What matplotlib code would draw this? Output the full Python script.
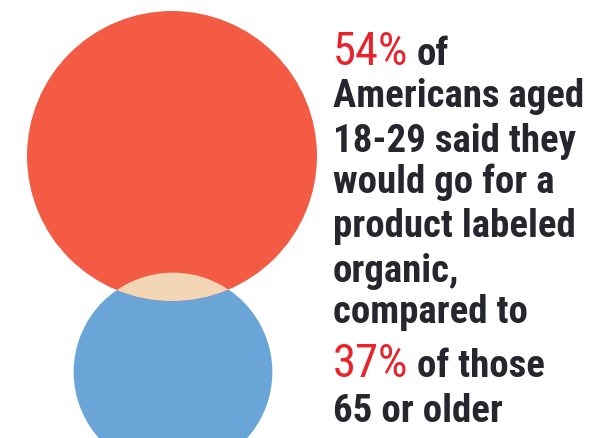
import matplotlib
matplotlib.use("Agg")
import matplotlib.pyplot as plt
from matplotlib.patches import Circle
from matplotlib import font_manager

# survey shares
groups = ["18-29", "65 or older"]
shares = [54, 37]
colors = ["#F45B44", "#69A6D7"]
overlap_color = "#F3D6B6"

lines = [("54%", "of"), ("", "Americans aged"), ("", "18-29 said they"),
         ("", "would go for a"), ("", "product labeled"), ("", "organic,"),
         ("", "compared to"), ("37%", "of those"), ("", "65 or older")]
baselines = [65, 107, 152, 193, 237, 282, 323, 377, 422]

# pick a narrow face if there is one
names = {f.name for f in font_manager.fontManager.ttflist}
family = "DejaVu Sans"
for cand in ["Roboto Condensed", "Liberation Sans Narrow", "Open Sans Condensed",
             "Noto Sans Condensed", "Roboto", "Liberation Sans"]:
    if cand in names:
        family = cand
        break
font = [family, "DejaVu Sans"]

fig = plt.figure(figsize=(5.9, 4.39), dpi=100)
ax = fig.add_axes([0, 0, 1, 1])
ax.set_xlim(0, 590)
ax.set_ylim(439, 0)
ax.set_aspect("equal")
ax.axis("off")

# radius proportional to share
k = 145 / shares[0]
r_top = shares[0] * k
r_bot = shares[1] * k
top = Circle((172, 157), r_top, color=colors[0], lw=0)
bot = Circle((173, 373), r_bot, color=colors[1], lw=0)
ax.add_patch(bot)
ax.add_patch(top)
mix = Circle((173, 373), r_bot, color=overlap_color, lw=0)
ax.add_patch(mix)
clip = Circle((172, 157), r_top, transform=ax.transData)
mix.set_clip_path(clip)

dark = "#26262e"
red = "#E8232C"

fig.canvas.draw()
rend = fig.canvas.get_renderer()

# size the text so the widest line fits like the reference
probe = ax.text(0, 0, "Americans aged", fontsize=20, family=font, fontweight="bold")
w = probe.get_window_extent(rend).width
probe.remove()
fs = 20 * 250 / w

x0 = 333
for (pct, rest), y in zip(lines, baselines):
    x = x0
    if pct:
        t = ax.text(x, y, pct, color=red, fontsize=fs * 1.2, family=font,
                    va="baseline", ha="left")
        bb = t.get_window_extent(rend)
        x = ax.transData.inverted().transform((bb.x1, bb.y0))[0] + 8
    ax.text(x, y, rest, color=dark, fontsize=fs, family=font,
            fontweight="bold", va="baseline", ha="left")

fig.savefig("out.png", dpi=100)
